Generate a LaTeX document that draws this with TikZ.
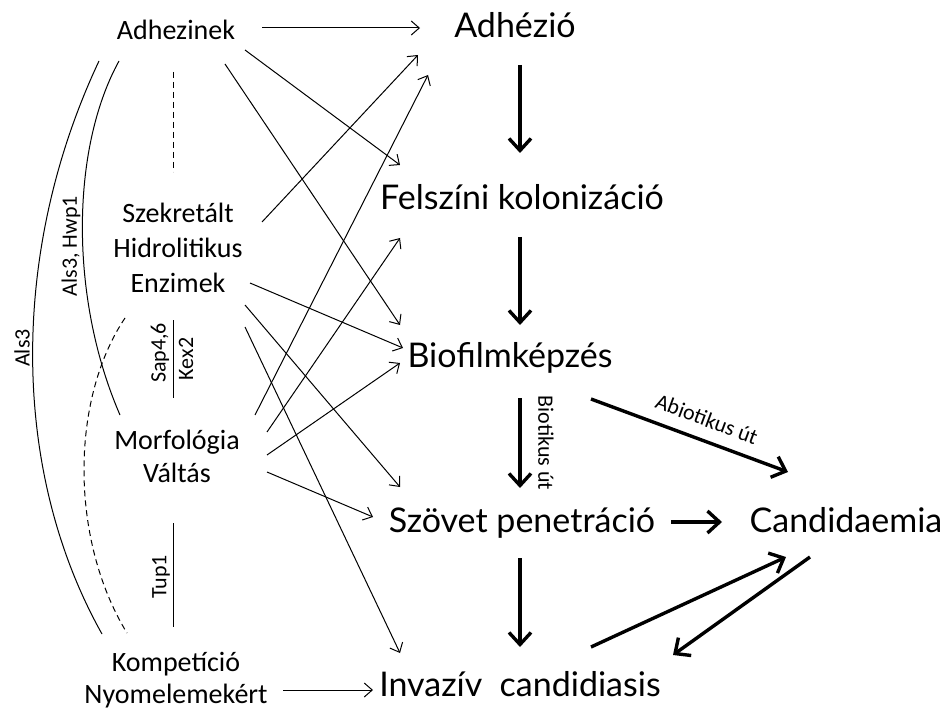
\documentclass[tikz,border=0pt]{standalone}
\usepackage{fontspec}
\setmainfont{Carlito}
\newfontfamily\stagefont{Lato}
\usetikzlibrary{arrows.meta, calc}
\tikzset{
	lefttxt/.style={align=center, inner sep=1pt, font=\fontsize{14}{17.5}\selectfont},
	stage/.style={inner sep=1pt, font=\stagefont\fontsize{17}{20}\selectfont},
	gene/.style={rotate=90, inner sep=1pt, font=\fontsize{11}{13}\selectfont},
	utlbl/.style={inner sep=1pt, font=\fontsize{11}{13}\selectfont},
	arr/.style={-{Straight Barb[length=4pt, width=7pt]}, line width=0.5pt},
	barr/.style={-{Straight Barb[length=6pt, width=11pt]}, line width=1.7pt},
	gline/.style={line width=0.5pt},
	dline/.style={line width=0.5pt, densely dashed},
}
\begin{document}
\begin{tikzpicture}[x=0.5pt, y=-0.5pt]
	\useasboundingbox (0,0) rectangle (942,711);
	% bal oldal
	\node[lefttxt] (adhezinek) at (176,30) {Adhezinek};
	\node[lefttxt] (szekretalt) at (178,248) {Szekretált\\Hidrolitikus\\Enzimek};
	\node[lefttxt, font=\fontsize{14}{16.5}\selectfont] (morfologia) at (177,456) {Morfológia\\Váltás};
	\node[lefttxt, font=\fontsize{14}{16}\selectfont] (kompeticio) at (176,680) {Kompetíció\\Nyomelemekért};
	\node[gene] (als3) at (22,348) {Als3};
	\node[gene] (als3hwp1) at (71,246) {Als3, Hwp1};
	\node[gene] (sap46) at (160,353) {Sap4,6};
	\node[gene] (kex2) at (186,359) {Kex2};
	\node[gene] (tup1) at (161,577) {Tup1};
	% jobb oldal
	\node[stage] (adhezio) at (515,25) {Adhézió};
	\node[stage] (felszini) at (522,197) {Felszíni kolonizáció};
	\node[stage] (biofilm) at (510,358) {Biofilmképzés};
	\node[stage] (szovet) at (522,523) {Szövet penetráció};
	\node[stage] (candidaemia) at (846,520) {Candidaemia};
	\node[stage] (invaziv) at (520,684) {Invazív\ \ candidiasis};
	
	% gének
	\draw[gline] ($(adhezinek)+(-77,31)$) .. controls (10,250) and (10,470) .. ($(kompeticio)+(-74,-46)$);
	\draw[gline] ($(adhezinek)+(-57,31)$) .. controls (70,150) and (70,300) .. ($(morfologia)+(-57,-41)$);
	\draw[dline] ($(szekretalt)+(-53,70)$) .. controls (70,400) and (70,540) .. ($(kompeticio)+(-49,-47)$);
	\draw[dline] ($(adhezinek)+(-3,42)$) -- ($(szekretalt)+(-5,-76)$);
	\draw[gline] ($(szekretalt)+(-5,72)$) -- ($(morfologia)+(-4,-58)$);
	\draw[gline] ($(morfologia)+(-4,67)$) -- ($(kompeticio)+(-3,-53)$);
	
	% vékony nyilak
	\draw[arr] ($(adhezinek)+(86,-2)$) -- ($(adhezio)+(-95,3)$);
	\draw[arr] ($(adhezinek)+(69,20)$) -- ($(felszini)+(-122,-32)$);
	\draw[arr] ($(adhezinek)+(49,34)$) -- ($(biofilm)+(-110,-33)$);
	\draw[arr] ($(szekretalt)+(84,-26)$) -- ($(adhezio)+(-97,30)$);
	\draw[arr] ($(szekretalt)+(72,35)$) -- ($(biofilm)+(-107,-10)$);
	\draw[arr] ($(szekretalt)+(67,57)$) -- ($(szovet)+(-122,-36)$);
	\draw[arr] ($(szekretalt)+(67,79)$) -- ($(invaziv)+(-120,-31)$);
	\draw[arr] ($(morfologia)+(78,-41)$) -- ($(adhezio)+(-87,50)$);
	\draw[arr] ($(morfologia)+(90,-24)$) -- ($(felszini)+(-122,41)$);
	\draw[arr] ($(morfologia)+(90,-1)$) -- ($(biofilm)+(-110,5)$);
	\draw[arr] ($(morfologia)+(90,16)$) -- ($(szovet)+(-149,-6)$);
	\draw[arr] ($(kompeticio)+(107,10)$) -- ($(invaziv)+(-147,6)$);
	
	% vastag nyilak
	\draw[barr] ($(adhezio)+(5,40)$) -- ($(felszini)+(-2,-44)$);
	\draw[barr] ($(felszini)+(-2,40)$) -- ($(biofilm)+(10,-33)$);
	\draw[barr] ($(biofilm)+(10,40)$) -- node[utlbl, xshift=13pt, rotate=-90] {Biotikus út} ($(szovet)+(-2,-35)$);
	\draw[barr] ($(biofilm)+(81,41)$) -- node[utlbl, sloped, above=5pt, pos=0.55] {Abiotikus út} ($(candidaemia)+(-58,-48)$);
	\draw[barr] ($(szovet)+(149,-1)$) -- ($(candidaemia)+(-124,2)$);
	\draw[barr] ($(szovet)+(-2,35)$) -- ($(invaziv)+(0,-37)$);
	\draw[barr] ($(invaziv)+(71,-37)$) -- ($(candidaemia)+(-60,37)$);
	\draw[barr] ($(candidaemia)+(-36,37)$) -- ($(invaziv)+(153,-29)$);
\end{tikzpicture}
\end{document}
